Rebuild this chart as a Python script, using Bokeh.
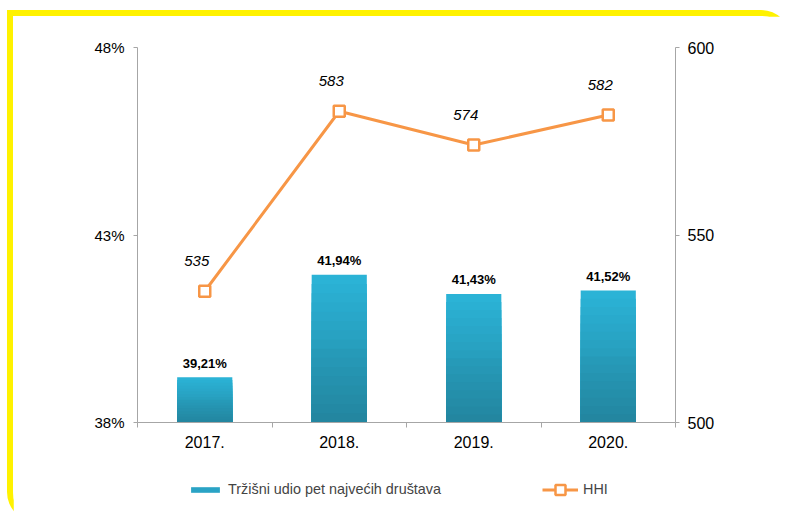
import numpy as np
from bokeh.plotting import figure
from bokeh.layouts import column
from bokeh.models import (Range1d, LinearAxis, FixedTicker, Legend, LegendItem,
                          PrintfTickFormatter)
from bokeh.core.properties import value
from bokeh.embed import file_html
from bokeh.resources import INLINE

# ---- data ----
categories = ["2017.", "2018.", "2019.", "2020."]
share_pct = [39.21, 41.94, 41.43, 41.52]
hhi = [535, 583, 574, 582]
left_ticks = [38, 43, 48]
right_ticks = [500, 550, 600]
bar_label = "Tržišni udio pet najvećih društava"
line_label = "HHI"

FONT = "Liberation Sans"
ORANGE = "#F79646"
AXIS_GRAY = "#A6A6A6"
YELLOW = "#FFF200"
BAR_MID = "#2AA3C5"

xc = np.arange(len(categories)) + 0.5

p = figure(width=778, height=446, output_backend="svg", toolbar_location=None,
           x_range=Range1d(0, len(categories)), y_range=Range1d(38, 48),
           min_border_left=124, min_border_right=116, min_border_top=31, min_border_bottom=40,
           background_fill_color="white", border_fill_color="white")
p.outline_line_color = None
p.grid.visible = False
p.extra_y_ranges = {"hhi": Range1d(500, 600)}

# ---- bars: overlapping layers (tall/light first, short/dark last) -> vertical gradient ----
N = 16
top_c = np.array([0x2B, 0xB4, 0xD8])
bot_c = np.array([0x23, 0x87, 0xA1])
bx, bt, bc = [], [], []
for k in range(N - 1, -1, -1):
    t = (k + 0.5) / N  # 0 bottom -> 1 top
    c = bot_c + (top_c - bot_c) * t
    if t < 0.5:
        c = c * 0.985
    col = "#%02x%02x%02x" % tuple(int(round(q)) for q in c)
    for i, v in enumerate(share_pct):
        bx.append(xc[i])
        bt.append(38 + (v - 38) * (k + 1) / N)
        bc.append(col)
p.vbar(x=bx, bottom=38, top=bt, width=0.41, fill_color=bc, line_color=None)

p.text(x=xc, y=share_pct, text=[("%.2f" % v).replace(".", ",") + "%" for v in share_pct],
       text_font=value(FONT), text_font_size="13px", text_font_style="bold",
       text_align="center", text_baseline="middle", y_offset=-14, text_color="black")

# ---- HHI line ----
p.line(x=xc, y=hhi, y_range_name="hhi", line_color=ORANGE, line_width=3)
p.scatter(x=xc, y=hhi, y_range_name="hhi", marker="square", size=11,
          line_color=ORANGE, line_width=2.5, fill_color="white")
p.text(x=xc, y=hhi, y_range_name="hhi", text=[str(v) for v in hhi],
       text_font=value(FONT), text_font_size="15px", text_font_style="italic",
       text_align="center", text_baseline="middle", x_offset=-8, y_offset=-30, text_color="black")

# ---- axes ----
xa = p.xaxis[0]
xa.ticker = FixedTicker(ticks=list(xc), minor_ticks=list(range(len(categories) + 1)))
xa.major_label_overrides = {float(x): c for x, c in zip(xc, categories)}
xa.major_tick_line_color = None
xa.major_tick_out = 0
xa.major_tick_in = 0
xa.minor_tick_line_color = AXIS_GRAY
xa.minor_tick_out = 5
xa.minor_tick_in = 0
xa.axis_line_color = AXIS_GRAY
xa.major_label_text_font = FONT
xa.major_label_text_font_size = "16px"
xa.major_label_text_color = "black"
xa.major_label_standoff = 8

ya = p.yaxis[0]
ya.ticker = FixedTicker(ticks=left_ticks)
ya.formatter = PrintfTickFormatter(format="%d%%")
ya.minor_tick_line_color = None
ya.major_tick_line_color = AXIS_GRAY
ya.major_tick_out = 4
ya.major_tick_in = 0
ya.axis_line_color = AXIS_GRAY
ya.major_label_text_font = FONT
ya.major_label_text_font_size = "15px"
ya.major_label_text_color = "black"
ya.major_label_standoff = 9

ra = LinearAxis(y_range_name="hhi", ticker=FixedTicker(ticks=right_ticks))
ra.minor_tick_line_color = None
ra.major_tick_line_color = AXIS_GRAY
ra.major_tick_out = 4
ra.major_tick_in = 0
ra.axis_line_color = AXIS_GRAY
ra.major_label_text_font = FONT
ra.major_label_text_font_size = "16px"
ra.major_label_text_color = "black"
ra.major_label_standoff = 8
p.add_layout(ra, "right")

# ---- legend strip (separate small figure; its frame is aligned with the chart's frame) ----
q = figure(width=778, height=60, output_backend="svg", toolbar_location=None,
           x_axis_type=None, y_axis_type=None, x_range=Range1d(0, 1), y_range=Range1d(0, 1),
           min_border_left=0, min_border_right=0, min_border_top=0, min_border_bottom=0,
           background_fill_color="white", border_fill_color="white")
q.outline_line_color = None
q.grid.visible = False
# legend proxies placed outside the strip's visible ranges
lbar = q.vbar(x=[-5], top=[-5], bottom=-6, width=0.4, fill_color=BAR_MID, line_color=None)
lline = q.line(x=[-5, -4], y=[-5, -5], line_color=ORANGE, line_width=3)
lmark = q.scatter(x=[-5], y=[-5], marker="square", size=11, line_color=ORANGE,
                  line_width=2.5, fill_color="white")

common = dict(orientation="horizontal", padding=0, margin=0, border_line_color=None,
              background_fill_alpha=0, label_text_font=FONT, label_text_font_size="14.4px",
              label_standoff=5, glyph_width=36)
lg1 = Legend(items=[LegendItem(label=bar_label, renderers=[lbar])], location=(50, 23),
             glyph_height=7, label_height=20, **common)
lg2 = Legend(items=[LegendItem(label=line_label, renderers=[lline, lmark])], location=(405, 20.5),
             glyph_height=25, label_height=25, **common)
q.add_layout(lg1)
q.add_layout(lg2)

layout = column(p, q, spacing=0,
                styles={"border-top": f"6px solid {YELLOW}", "border-left": f"6px solid {YELLOW}",
                        "border-right": "0px solid transparent", "border-bottom": "0px solid transparent",
                        "border-top-right-radius": "30px", "border-bottom-left-radius": "30px",
                        "margin-left": "7px", "margin-top": "10px"})

open("out.html", "w").write(file_html(layout, INLINE))
